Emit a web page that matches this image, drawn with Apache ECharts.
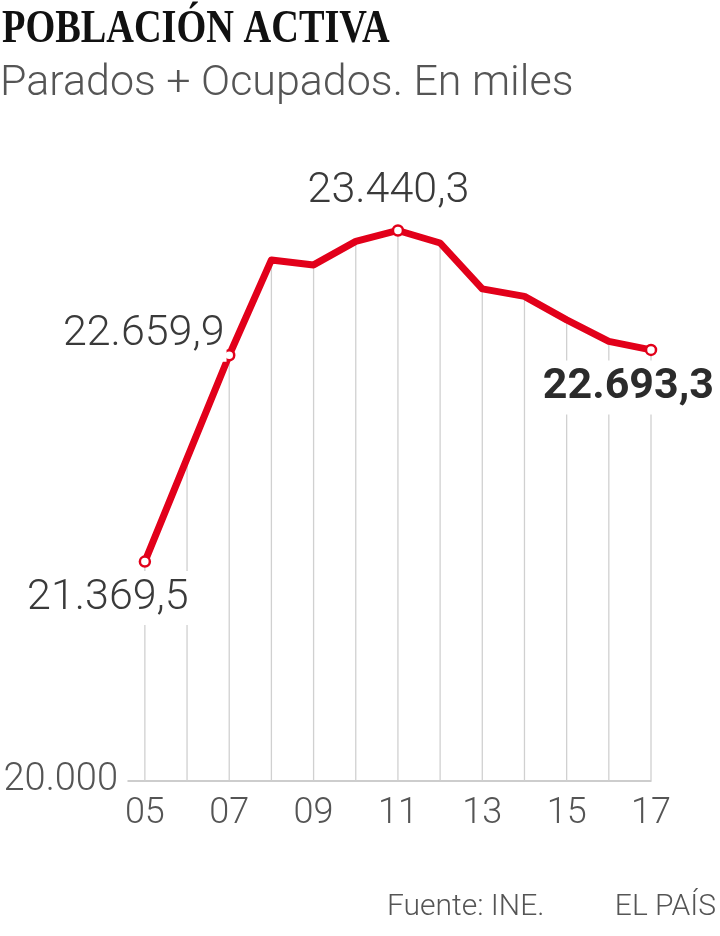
<!DOCTYPE html>
<html>
<head>
<meta charset="utf-8">
<script src="https://cdn.jsdelivr.net/npm/echarts@6/dist/echarts.min.js"></script>
<style>
html,body{margin:0;padding:0;background:#fff;}
#chart{width:720px;height:936px;}
</style>
</head>
<body>
<div id="chart"></div>
<script>
// ---- data ----
const years = [2005, 2006, 2007, 2008, 2009, 2010, 2011, 2012, 2013, 2014, 2015, 2016, 2017];
const activos = [21369.5, 22015, 22659.9, 23256, 23225, 23372, 23440.3, 23362, 23075, 23028, 22881, 22747, 22693.3];
const xTickValues = [2005, 2007, 2009, 2011, 2013, 2015, 2017];
const xTickLabels = ['05', '07', '09', '11', '13', '15', '17'];
const yTickValues = [20000];
const yTickLabels = ['20.000'];
const labelled = [0, 2, 6, 12];
const highlighted = 12;

const RED = '#e2001a';
const FONT = 'Roboto, "Liberation Sans", sans-serif';

function fmt(v) {
  const parts = v.toFixed(1).split('.');
  const intPart = parts[0].replace(/\B(?=(\d{3})+(?!\d))/g, '.');
  return intPart + ',' + parts[1];
}

const labelOffsets = { 0: [-37, 36.5], 2: [-85.5, -20.5], 6: [-9.5, -39.5], 12: [-22.6, 37.5] };

const lineData = years.map((y, i) => {
  const item = { value: [y, activos[i]] };
  if (labelled.indexOf(i) >= 0) {
    item.symbol = 'circle';
    item.symbolSize = 10;
    item.label = {
      show: true,
      position: 'inside',
      align: 'center',
      verticalAlign: 'middle',
      offset: labelOffsets[i],
      formatter: fmt(activos[i]),
      fontFamily: FONT,
      fontSize: 43,
      fontWeight: i === highlighted ? 'bold' : 300,
      color: i === highlighted ? '#2b2b2b' : '#3a3a3a',
      backgroundColor: '#fff',
      lineHeight: 50,
      padding: [2, 2]
    };
  } else {
    item.symbol = 'none';
  }
  return item;
});

const barData = years.map((y, i) => [y, activos[i]]);

const chart = echarts.init(document.getElementById('chart'), null, { renderer: 'canvas' });
chart.setOption({
  animation: false,
  backgroundColor: '#fff',
  grid: { left: 128, right: 69, top: 141, height: 639.5, containLabel: false, outerBoundsMode: 'none' },
  xAxis: {
    type: 'value',
    min: 2004.6,
    max: 2017,
    axisLine: { show: true, lineStyle: { color: '#bdbdbd', width: 1.5 } },
    axisTick: { show: false },
    splitLine: { show: false },
    axisLabel: {
      customValues: xTickValues,
      formatter: v => xTickLabels[xTickValues.indexOf(v)],
      fontFamily: FONT,
      fontSize: 36,
      fontWeight: 300,
      color: '#555',
      margin: 15
    }
  },
  yAxis: {
    type: 'value',
    min: 20000,
    max: 24000,
    axisLine: { show: false },
    axisTick: { show: false },
    splitLine: { show: false },
    axisLabel: {
      customValues: yTickValues,
      formatter: v => yTickLabels[yTickValues.indexOf(v)],
      fontFamily: FONT,
      fontSize: 38,
      fontWeight: 300,
      color: '#555',
      margin: 10,
      padding: [0, 0, 6, 0]
    }
  },
  series: [
    {
      type: 'bar',
      data: barData,
      barWidth: 1.3,
      itemStyle: { color: '#d0d0d0' },
      silent: true,
      z: 1
    },
    {
      type: 'line',
      data: lineData,
      showAllSymbol: true,
      lineStyle: { color: RED, width: 7, join: 'round', cap: 'round' },
      itemStyle: { color: '#fff', borderColor: RED, borderWidth: 2.5 },
      z: 3
    }
  ],
  graphic: [
    {
      type: 'text', x: 2, y: 30, scaleX: 0.815,
      style: { text: 'POBLACIÓN ACTIVA', font: 'bold 47px "Liberation Serif", serif', fill: '#111', textVerticalAlign: 'middle' }
    },
    {
      type: 'text', x: 0, y: 84,
      style: { text: 'Parados + Ocupados. En miles', font: '300 43px Roboto, "Liberation Sans", sans-serif', fill: '#555', textVerticalAlign: 'middle' }
    },
    {
      type: 'text', x: 387, y: 907,
      style: { text: 'Fuente: INE.', font: '300 30px Roboto, "Liberation Sans", sans-serif', fill: '#555', textVerticalAlign: 'middle' }
    },
    {
      type: 'text', x: 716, y: 907,
      style: { text: 'EL PAÍS', font: '300 30px Roboto, "Liberation Sans", sans-serif', fill: '#555', textAlign: 'right', textVerticalAlign: 'middle' }
    }
  ]
});
</script>
</body>
</html>
